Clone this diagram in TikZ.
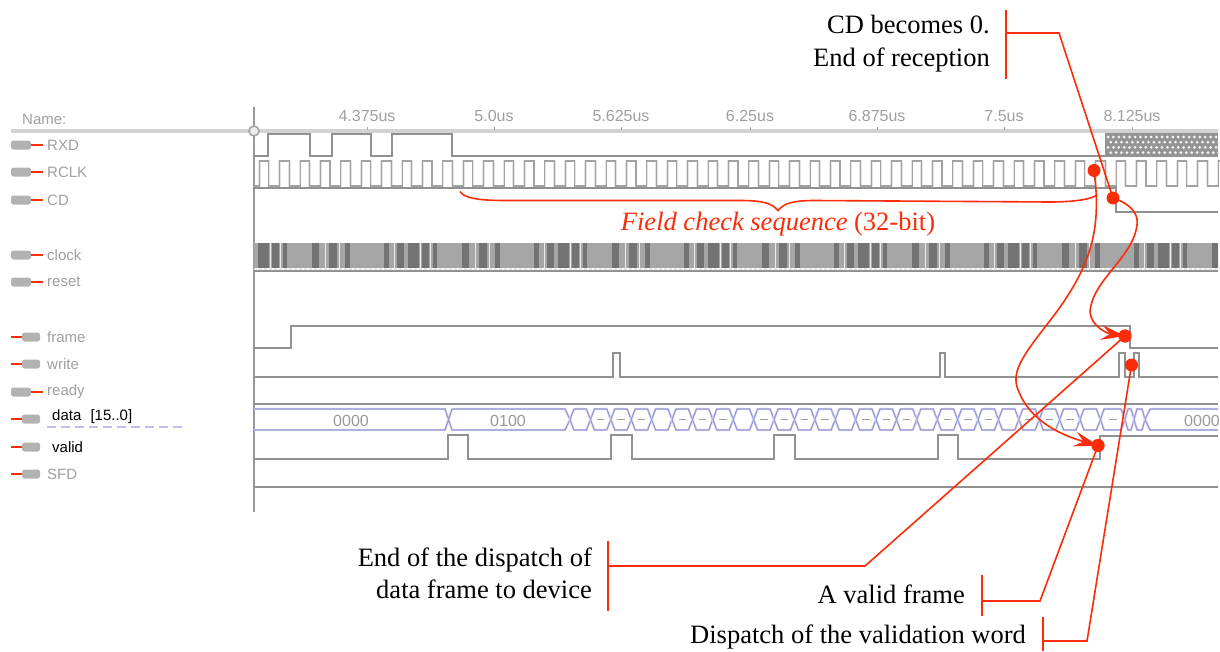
\documentclass[tikz,border=0pt]{standalone}
\usepackage{fontspec}
\setmainfont{Liberation Serif}
\setsansfont{Liberation Sans}
\usetikzlibrary{positioning,arrows.meta,calc}
\definecolor{annored}{RGB}{252,44,8}
\definecolor{busblue}{RGB}{150,150,212}
\definecolor{wavegray}{RGB}{145,145,145}

\begin{document}
\begin{tikzpicture}[
  x=1pt, y=-1pt,
  wave/.style={draw=wavegray, line width=1.2pt, preaction={draw=gray!25, line width=2.8pt}},
  thinwave/.style={draw=wavegray!85, line width=1.1pt, preaction={draw=gray!20, line width=2.6pt}},
  bus/.style={draw=busblue, line width=1.1pt, preaction={draw=busblue!30, line width=2.4pt}},
  sigtext/.style={font=\sffamily\fontsize{15}{17}\selectfont, text=gray!75, anchor=west, inner sep=0pt},
  darktext/.style={font=\sffamily\fontsize{15}{17}\selectfont, text=black, anchor=west, inner sep=0pt},
  tick/.style={font=\sffamily\fontsize{16}{18}\selectfont, text=gray!75, inner sep=0pt},
  busval/.style={font=\sffamily\fontsize{16}{18}\selectfont, text=gray!80, inner sep=0pt},
  lab/.style={font=\fontsize{26.5}{32}\selectfont, align=right, anchor=east, inner sep=0pt},
  dot/.style={circle, fill=annored, inner sep=0pt, minimum size=13pt},
  anno/.style={draw=annored, line width=1.6pt},
  arr/.style={anno, -{Stealth[length=24pt, width=15pt, inset=9pt]}},
  pinin/.style={draw=annored, line width=1.8pt},
  pinbody/.style={fill=gray!60, rounded corners=2.5pt}
]
\useasboundingbox (0,0) rectangle (1220,651);

% time axis
\draw[draw=gray!35, line width=3.5pt] (11,131) -- (1218,131);
\draw[draw=gray!80, line width=1.2pt] (254,107) -- (254,512);
\node[circle, draw=gray!70, fill=gray!15, line width=1.6pt, inner sep=0pt, minimum size=10pt] (cursor) at (254,131) {};
\node[sigtext] (namehead) at (22,119) {Name:};
\foreach \tx/\tlab in {367/4.375us, 494/5.0us, 621/5.625us, 750/6.25us, 877/6.875us, 1004/7.5us, 1132/8.125us} {
  \node[tick] at (\tx,116) {\tlab};
  \draw[draw=gray!70, line width=0.8pt] (\tx,127) -- (\tx,130);
}

% signal names
\foreach \ya/\tname in {145/RXD, 172/RCLK, 200/CD, 255/clock, 282/reset, 392/ready} {
  \fill[pinbody] (11,\ya-4.5) rectangle (31,\ya+4.5);
  \draw[pinin] (31,\ya) -- (43,\ya);
  \node[sigtext] at (47,\ya) {\tname};
}
\foreach \ya/\tname in {337/frame, 364/write, 474/SFD} {
  \draw[pinin] (11,\ya) -- (22,\ya);
  \fill[pinbody] (22,\ya-4.5) rectangle (40,\ya+4.5);
  \node[sigtext] at (47,\ya) {\tname};
}
\foreach \ya in {419,447} {
  \draw[pinin] (11,\ya) -- (22,\ya);
  \fill[pinbody] (22,\ya-4.5) rectangle (40,\ya+4.5);
}
\draw[draw=busblue!60, line width=1.2pt, dash pattern=on 9pt off 5pt] (47,427) -- (182,427);
\node[darktext, fill=white, inner ysep=1pt] at (52,417) {data\hspace{5pt} [15..0]};
\node[darktext] at (52,447) {valid};

% RXD
\draw[wave] (254,156) -- (268,156) -- (268,134) -- (310,134) -- (310,156) -- (332,156)
  -- (332,134) -- (371,134) -- (371,156) -- (392,156) -- (392,134) -- (452,134) -- (452,156) -- (1105,156);
\fill[black!42] (1105,133) rectangle (1218,157);
\foreach \i in {0,...,20} {
  \foreach \j in {0,1,2,3} {
    \fill[white!92!gray] ({1108+5.4*\i+2.7*mod(\j,2)},{137+5.2*\j}) circle (1.5pt);
  }
}
% RCLK and CD
\draw[thinwave] (254,186)
  \foreach \i in {0,...,47} {
    -- ({259.3+20.4*\i},186) -- ({259.3+20.4*\i},161) -- ({268.8+20.4*\i},161) -- ({268.8+20.4*\i},186)
  };
\draw[wave] (254,188) -- (1116,188) -- (1116,212) -- (1218,212);
% clock
\fill[black!35] (254,243) rectangle (1218,268);
\begin{scope}
  \clip (254,243) rectangle (1218,268);
  \foreach \i in {0,...,6} {
    \foreach \xa/\xb in {4/15, 18/25, 29/33, 58/65, 75/83, 91/96, 130/135, 143/150} {
      \fill[black!55] ({254+150*\i+\xa},243) rectangle ({254+150*\i+\xb},268);
    }
    \foreach \xa/\xb in {15.5/17, 26/27, 71/72, 85/86, 140/141} {
      \fill[gray!15] ({254+150*\i+\xa},243) rectangle ({254+150*\i+\xb},268);
    }
  }
\end{scope}
\draw[draw=gray!20, line width=1.5pt, dash pattern=on 3pt off 2pt] (254,269) -- (1218,269);
\draw[wave] (254,271) -- (1218,271);
% frame, write, ready
\draw[wave] (254,348) -- (291,348) -- (291,326) -- (1130,326) -- (1130,348) -- (1218,348);
\draw[wave] (254,377) -- (613,377) -- (613,353) -- (620,353) -- (620,377) -- (940,377) -- (940,353)
  -- (945,353) -- (945,377) -- (1119,377) -- (1119,353) -- (1125,353) -- (1125,377) -- (1134,377)
  -- (1134,353) -- (1139,353) -- (1139,377) -- (1218,377);
\draw[wave] (254,404) -- (1218,404);
% data
\draw[bus] (254,409) -- (445,409) -- (452,430) -- (565,430) -- (570,419.5) -- (565,409) -- (452,409) -- (445,430) -- (254,430);
\foreach \i in {0,...,25} {
  \draw[bus] ({570+20.4*\i},419.5) -- ({574+20.4*\i},409) -- ({586.4+20.4*\i},409) -- ({590.4+20.4*\i},419.5)
    -- ({586.4+20.4*\i},430) -- ({574+20.4*\i},430) -- cycle;
}
\foreach \i in {1,2,3,5,6,7,9,10,11,12,14,15,16,18,19,20,22,23,24} {
  \draw[draw=gray!75, line width=1.2pt] ({576.5+20.4*\i},419.5) -- ({584+20.4*\i},419.5);
}
\draw[bus] (1100.4,419.5) -- (1104,409) -- (1121,409) -- (1125,419.5) -- (1121,430) -- (1104,430) -- cycle;
\draw[draw=gray!75, line width=1.2pt] (1109,419.5) -- (1117,419.5);
\draw[bus] (1125,419.5) -- (1128,409) -- (1131,409) -- (1134,419.5) -- (1131,430) -- (1128,430) -- cycle;
\draw[bus] (1134,419.5) -- (1137,409) -- (1142,409) -- (1145,419.5) -- (1142,430) -- (1137,430) -- cycle;
\draw[bus] (1218,409) -- (1150,409) -- (1145,419.5) -- (1150,430) -- (1218,430);
\node[busval] at (351,420.5) {0000};
\node[busval] at (508,420.5) {0100};
\begin{scope}
  \clip (1170,405) rectangle (1218,435);
  \node[busval, anchor=west] at (1184,420.5) {0000};
\end{scope}
% valid, SFD
\draw[wave] (254,459) -- (448,459) -- (448,435) -- (468,435) -- (468,459) -- (611,459) -- (611,435)
  -- (632,435) -- (632,459) -- (774,459) -- (774,435) -- (795,435) -- (795,459) -- (938,459) -- (938,435)
  -- (958,435) -- (958,459) -- (1100,459) -- (1100,436) -- (1218,436);
\draw[wave] (254,487) -- (1218,487);

% annotations
\node[dot] (rclkend) at (1094,170.5) {};
\node[dot] (cdfall) at (1113,198) {};
\node[dot] (frameend) at (1125,336) {};
\node[dot] (writeend) at (1131.5,365) {};
\node[dot] (validend) at (1098,445.5) {};

\node[lab] (cdlab) at (990,44) {CD becomes 0.\\[1pt]End of reception};
\node[lab] (dispatchlab) at (592,573) {End of the dispatch of\\data frame to device};
\node[lab] (validlab) at (965,594) {A valid frame};
\node[lab] (wordlab) at (1026,637) {Dispatch of the validation word};
\node[font=\fontsize{26.5}{28}\selectfont, text=annored, anchor=center, inner sep=0pt] (fcslab) at (778,224) {\textit{Field check sequence} (32-bit)};

\coordinate (cdbar) at (1006,33);
\coordinate (cdknee) at (1059,33);
\coordinate (dispatchbar) at (608,566);
\coordinate (dispatchknee) at (865,566);
\coordinate (validbar) at (982,601);
\coordinate (validknee) at (1040,601);
\coordinate (wordbar) at (1043,641);
\coordinate (wordknee) at (1087,641);
\coordinate (bracestart) at (460,191.5);
\coordinate (bracetip) at (778,210.5);
\coordinate (braceend) at (1097,195);

\draw[anno] (1006,10) -- (1006,79);
\draw[anno] (608,541) -- (608,611);
\draw[anno] (982,575) -- (982,616);
\draw[anno] (1043,617) -- (1043,651);
\draw[anno] (cdbar) -- (cdknee) -- (cdfall.center);
\draw[anno] (dispatchbar) -- (dispatchknee) -- (frameend.center);
\draw[anno] (validbar) -- (validknee) -- (validend.center);
\draw[anno] (wordbar) -- (wordknee) -- (writeend.center);
\draw[anno] (bracestart) .. controls (464,198) and (478,200.5) .. (505,200.5) -- (740,200.5)
  .. controls (762,200.5) and (772,203) .. (bracetip)
  .. controls (784,203) and (794,200.5) .. (815,200.5) -- (1050,202)
  .. controls (1075,202) and (1092,199) .. (braceend);
\draw[arr] (rclkend.center) .. controls (1102,230) and (1090,265) .. (1058,310)
  .. controls (1028,350) and (1008,370) .. (1019,392)
  .. controls (1030,420) and (1060,435) .. (validend.center);
\draw[arr] (cdfall.center) .. controls (1128,203) and (1139,212) .. (1137,225)
  .. controls (1133,258) and (1092,280) .. (1090,312)
  .. controls (1091,325) and (1105,333) .. (frameend.center);
\node[dot] at (validend) {};
\node[dot] at (frameend) {};
\end{tikzpicture}
\end{document}
